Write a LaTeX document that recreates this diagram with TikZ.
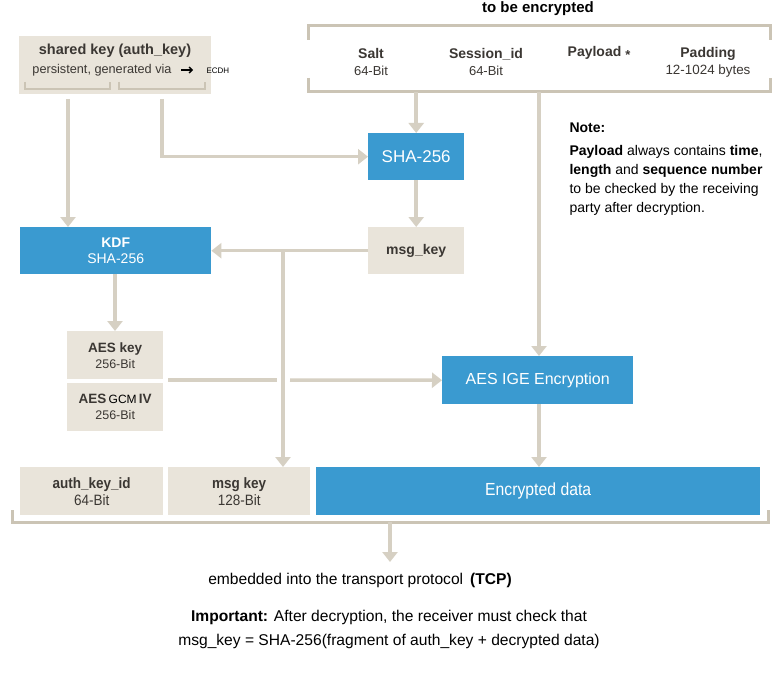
\documentclass[tikz,border=0pt]{standalone}
\usepackage{fontspec}
\setmainfont{Liberation Sans}
\newfontfamily\condfont[FakeStretch=0.9]{Liberation Sans}
\usetikzlibrary{arrows.meta}
\definecolor{bblue}{HTML}{3A9AD0}
\definecolor{beige}{HTML}{E9E4DA}
\definecolor{conn}{HTML}{D6D0C3}
\definecolor{brk}{HTML}{CBC4B5}
\definecolor{txt}{HTML}{3B3733}
\tikzset{
  x=1pt, y=-1pt,
  bluebox/.style={fill=bblue, text=white, inner sep=0pt},
  beigebox/.style={fill=beige, text=txt, inner sep=0pt},
  conline/.style={draw=conn, line width=3.5pt},
  conarrow/.style={conline, -{Triangle[width=15pt,length=10pt]}},
  bracket/.style={draw=brk, line width=3pt},
  lbl/.style={text=txt, align=center, font=\fontsize{14}{17}\selectfont},
}
\begin{document}
\begin{tikzpicture}
\useasboundingbox (0,0) rectangle (780,677);
\fill[white] (0,0) rectangle (780,677);

% top bracket (to be encrypted)
\node[lbl, text=black, font=\bfseries\fontsize{15}{17}\selectfont, anchor=north, inner sep=0pt] (tbe) at (538,1) {to be encrypted};
\draw[bracket] (308,40) -- (308,26) -- (770,26) -- (770,40);
\draw[bracket] (308,78) -- (308,92) -- (770,92) -- (770,78);
\node[lbl] (salt) at (371,62) {\textbf{Salt}\\[0pt]{\fontsize{13}{15}\selectfont 64-Bit}};
\node[lbl] (sess) at (486,62) {\textbf{Session\_id}\\[0pt]{\fontsize{13}{15}\selectfont 64-Bit}};
\node[lbl, anchor=north] (payl) at (599,43) {\textbf{Payload \raisebox{-2.5pt}{\fontsize{13}{13}\selectfont *}}};
\node[lbl] (padd) at (708,62) {\textbf{Padding}\\[0pt]{\fontsize{13.4}{15}\selectfont 12-1024 bytes}};
\coordinate (tb1) at (416,92);
\coordinate (tb2) at (539,92);

% shared key
\node[beigebox, minimum width=192pt, minimum height=58pt, anchor=north west] (sk) at (19,36) {};
\node[lbl, anchor=north, font=\fontsize{14.5}{17}\selectfont] (sktxt) at (115,40) {\textbf{shared key (auth\_key)}};
\node[lbl, anchor=north, font=\fontsize{12.7}{15}\selectfont] (sksub) at (102,61) {persistent, generated via};
\node[text=black, font=\fontsize{8}{9}\selectfont, anchor=west] (ecdh) at (203,71) {ECDH};
\draw[black, line width=1.3pt, -{Straight Barb[length=3pt]}] (181,70) -- (193,70);
\draw[bracket, line width=2.5pt] (25,82) -- (25,89) -- (110,89) -- (110,82);
\draw[bracket, line width=2.5pt] (119,82) -- (119,89) -- (205,89) -- (205,82);
\coordinate (sk1) at (68,99);
\coordinate (sk2) at (162,99);

% blue boxes
\node[bluebox, minimum width=96pt, minimum height=47pt, anchor=north west, font=\fontsize{17}{20}\selectfont] (sha) at (368,133) {SHA-256};
\node[beigebox, minimum width=96pt, minimum height=47pt, anchor=north west, font=\bfseries\fontsize{14}{16}\selectfont] (msgk) at (368,227) {msg\_key};
\node[bluebox, minimum width=191pt, minimum height=47pt, anchor=north west, align=center, font=\fontsize{14}{17}\selectfont] (kdf) at (20,227) {\textbf{KDF}\\[-1pt]SHA-256};
\node[beigebox, minimum width=96pt, minimum height=48pt, anchor=north west, align=center, font=\fontsize{13.5}{16}\selectfont] (aeskey) at (67,331) {\textbf{AES key}\\{\fontsize{12.5}{15}\selectfont 256-Bit}};
\node[beigebox, minimum width=96pt, minimum height=48pt, anchor=north west, align=center, font=\fontsize{13.5}{16}\selectfont] (aesiv) at (67,383) {\textbf{AES}\,{\fontsize{12}{13}\selectfont\textcolor{black}{GCM}}\,\textbf{IV}\\{\fontsize{12.5}{15}\selectfont 256-Bit}};
\node[bluebox, minimum width=191pt, minimum height=48pt, anchor=north west, font=\fontsize{16}{19}\selectfont] (ige) at (442,356) {AES IGE Encryption};

% bottom row
\node[beigebox, minimum width=143pt, minimum height=48pt, anchor=north west, align=center, font=\condfont\fontsize{15}{17}\selectfont] (akid) at (20,467) {\textbf{auth\_key\_id}\\{\fontsize{15}{17}\selectfont 64-Bit}};
\node[beigebox, minimum width=142pt, minimum height=48pt, anchor=north west, align=center, font=\condfont\fontsize{15}{17}\selectfont] (mk) at (168,467) {\textbf{msg key}\\{\fontsize{15}{17}\selectfont 128-Bit}};
\node[bluebox, minimum width=444pt, minimum height=48pt, anchor=north west, font=\condfont\fontsize{17.5}{20}\selectfont] (enc) at (316,467) {Encrypted data};
\draw[bracket] (12,510) -- (12,522) -- (768,522) -- (768,510);
\coordinate (bb) at (390,522);

% note
\node[text=black, anchor=north west, align=left, font=\fontsize{14}{19}\selectfont] (note) at (566,119)
 {\textbf{Note:}\\[4pt]\textbf{Payload} always contains \textbf{time},\\\textbf{length} and \textbf{sequence number}\\to be checked by the receiving\\party after decryption.};

% bottom texts
\node[text=black, font=\fontsize{15.6}{18}\selectfont] (emb) at (360,580) {embedded into the transport protocol \,\textbf{(TCP)}};
\node[text=black, align=center, font=\fontsize{15.6}{24}\selectfont] (imp) at (389,629) {\textbf{Important:} After decryption, the receiver must check that\\msg\_key = SHA-256(fragment of auth\_key + decrypted data)};

% connectors
\draw[conarrow] (sk1) -- (kdf.north -| sk1);
\draw[conarrow] (sk2) |- (sha.west);
\draw[conarrow] (sha.north |- tb1) -- (sha.north);
\draw[conarrow] (sha.south) -- (msgk.north);
\draw[conarrow] (msgk.west) -- (kdf.east);
\draw[conarrow] (283,252) -- (mk.north -| 283,0);
\draw[conarrow] (kdf.south -| 115,0) -- (aeskey.north -| 115,0);
\draw[conline] (168,380) -- (277,380);
\draw[conarrow] (290,380) -- (ige.west);
\draw[conarrow] (tb2) -- (ige.north -| tb2);
\draw[conarrow] (ige.south -| tb2) -- (enc.north -| tb2);
\draw[conarrow] (bb) -- (390,562);
\end{tikzpicture}
\end{document}
